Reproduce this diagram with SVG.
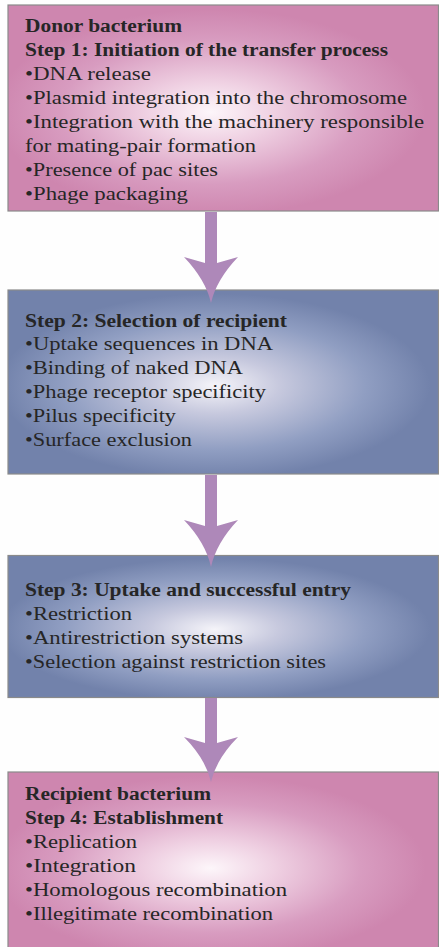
<svg xmlns="http://www.w3.org/2000/svg" width="439" height="947" viewBox="0 0 439 947">
<defs>
<radialGradient id="pink" cx="0.47" cy="0.52" r="0.5">
<stop offset="0" stop-color="#fdf6fa"/>
<stop offset="0.3" stop-color="#efd0e2"/>
<stop offset="0.7" stop-color="#d89cc0"/>
<stop offset="1" stop-color="#ce86af"/>
</radialGradient>
<radialGradient id="blue" cx="0.48" cy="0.52" r="0.5">
<stop offset="0" stop-color="#f5f4f9"/>
<stop offset="0.3" stop-color="#c7c9de"/>
<stop offset="0.7" stop-color="#909ec2"/>
<stop offset="1" stop-color="#7282ab"/>
</radialGradient>
</defs>
<style>
.box{stroke:#8a8a8a;stroke-width:1.2}
text{font-family:"Liberation Serif","Times New Roman",serif;font-size:18.5px;fill:#262626}
.h{font-weight:bold}
.arrow{fill:#ae88b9}
</style>
<rect width="439" height="947" fill="#fefefe"/>
<g id="step1">
<rect class="box" x="8" y="5" width="430.5" height="206" fill="url(#pink)"/>
<text class="h" x="25" y="32" textLength="157" lengthAdjust="spacingAndGlyphs">Donor bacterium</text>
<text class="h" x="25" y="56" textLength="363" lengthAdjust="spacingAndGlyphs">Step 1: Initiation of the transfer process</text>
<text x="25" y="80" textLength="126" lengthAdjust="spacingAndGlyphs">•DNA release</text>
<text x="25" y="104" textLength="382" lengthAdjust="spacingAndGlyphs">•Plasmid integration into the chromosome</text>
<text x="25" y="128" textLength="399" lengthAdjust="spacingAndGlyphs">•Integration with the machinery responsible</text>
<text x="25" y="152" textLength="231" lengthAdjust="spacingAndGlyphs">for mating-pair formation</text>
<text x="25" y="176" textLength="193" lengthAdjust="spacingAndGlyphs">•Presence of pac sites</text>
<text x="25" y="200" textLength="163" lengthAdjust="spacingAndGlyphs">•Phage packaging</text>
</g>
<g id="step2">
<rect class="box" x="8" y="290" width="430.5" height="184" fill="url(#blue)"/>
<text class="h" x="25" y="327" textLength="262" lengthAdjust="spacingAndGlyphs">Step 2: Selection of recipient</text>
<text x="25" y="350" textLength="248" lengthAdjust="spacingAndGlyphs">•Uptake sequences in DNA</text>
<text x="25" y="374" textLength="218" lengthAdjust="spacingAndGlyphs">•Binding of naked DNA</text>
<text x="25" y="398" textLength="241" lengthAdjust="spacingAndGlyphs">•Phage receptor specificity</text>
<text x="25" y="422" textLength="151" lengthAdjust="spacingAndGlyphs">•Pilus specificity</text>
<text x="25" y="446" textLength="167" lengthAdjust="spacingAndGlyphs">•Surface exclusion</text>
</g>
<g id="step3">
<rect class="box" x="8" y="555.5" width="430.5" height="142" fill="url(#blue)"/>
<text class="h" x="25" y="596" textLength="326" lengthAdjust="spacingAndGlyphs">Step 3: Uptake and successful entry</text>
<text x="25" y="620" textLength="107" lengthAdjust="spacingAndGlyphs">•Restriction</text>
<text x="25" y="644" textLength="218" lengthAdjust="spacingAndGlyphs">•Antirestriction systems</text>
<text x="25" y="668" textLength="301" lengthAdjust="spacingAndGlyphs">•Selection against restriction sites</text>
</g>
<g id="step4">
<rect class="box" x="8" y="772" width="430.5" height="185" fill="url(#pink)"/>
<text class="h" x="25" y="800" textLength="186" lengthAdjust="spacingAndGlyphs">Recipient bacterium</text>
<text class="h" x="25" y="824" textLength="198" lengthAdjust="spacingAndGlyphs">Step 4: Establishment</text>
<text x="25" y="848" textLength="112" lengthAdjust="spacingAndGlyphs">•Replication</text>
<text x="25" y="872" textLength="111" lengthAdjust="spacingAndGlyphs">•Integration</text>
<text x="25" y="896" textLength="262" lengthAdjust="spacingAndGlyphs">•Homologous recombination</text>
<text x="25" y="920" textLength="248" lengthAdjust="spacingAndGlyphs">•Illegitimate recombination</text>
</g>
<g id="connectors">
<path class="arrow" d="M205,212 L205,263 L184,257 Q205.8,280 211,303 Q216.2,280 238,257 L217,263 L217,212 Z"/>
<path class="arrow" d="M205,475 L205,526 L184,520 Q205.8,543 211,567 Q216.2,543 238,520 L217,526 L217,475 Z"/>
<path class="arrow" d="M205,698 L205,743 L184,737 Q205.8,759 211,782 Q216.2,759 238,737 L217,743 L217,698 Z"/>
</g>
</svg>
